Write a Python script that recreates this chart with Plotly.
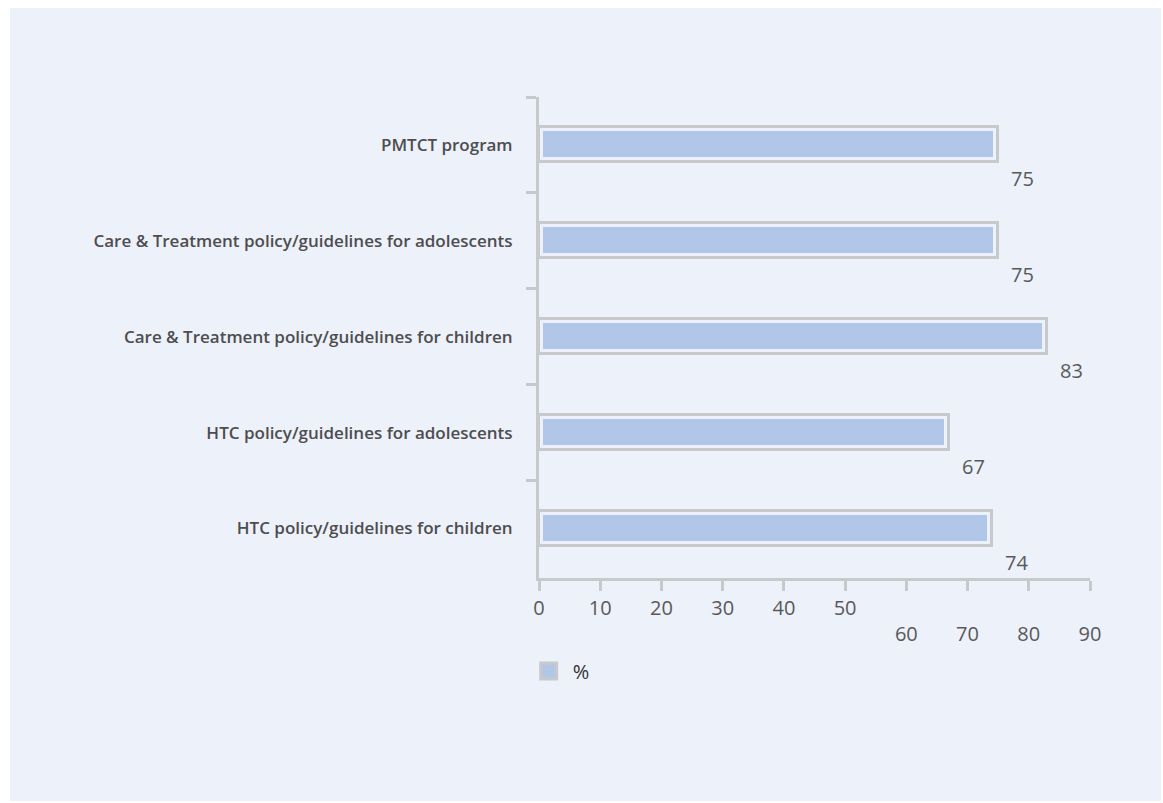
import plotly.graph_objects as go

categories = [
    "PMTCT program",
    "Care & Treatment policy/guidelines for adolescents",
    "Care & Treatment policy/guidelines for children",
    "HTC policy/guidelines for adolescents",
    "HTC policy/guidelines for children",
]
values = [75, 75, 83, 67, 74]
tick_vals = [0, 10, 20, 30, 40, 50, 60, 70, 80, 90]
tick_text = ["0", "10", "20", "30", "40", "50", "<br>60", "<br>70", "<br>80", "<br>90"]
series_name = "%"

BG = "#edf1f9"
BAR = "#b2c7e7"
GREY = "#c8c9cb"
TXT = "#58595b"
FONT = "Open Sans"

W, H = 1163, 803
ML, MR, MT, MB = 539, 73, 97, 225
pw, ph = W - ML - MR, H - MT - MB

fig = go.Figure()
# inner filled bar
fig.add_trace(go.Bar(
    y=categories, x=values, orientation="h", width=0.365,
    marker=dict(color=BAR, line=dict(color=BG, width=9)),
    showlegend=False, hoverinfo="skip",
))
# outer outline
fig.add_trace(go.Bar(
    y=categories, x=values, orientation="h", width=0.365,
    marker=dict(color="rgba(0,0,0,0)", line=dict(color=GREY, width=3)),
    showlegend=False, hoverinfo="skip",
))
# legend entry
fig.add_trace(go.Scatter(
    x=[None], y=[None], mode="markers", name=series_name,
    marker=dict(symbol="square", size=20, color=BAR, line=dict(color=GREY, width=3)),
))

for c, v in zip(categories, values):
    fig.add_annotation(
        x=v, y=c, xref="x", yref="y", text=str(v), showarrow=False,
        xanchor="left", yanchor="middle", xshift=11, yshift=-34,
        font=dict(family=FONT, size=20, color=TXT),
    )

# background panel
fig.add_shape(
    type="rect", xref="paper", yref="paper", layer="below",
    x0=(10 - ML) / pw, x1=(1161 - ML) / pw,
    y0=(H - MB - 801) / ph, y1=(H - MB - 8) / ph,
    fillcolor=BG, line=dict(width=0),
)

fig.update_layout(
    width=W, height=H,
    margin=dict(l=ML, r=MR, t=MT, b=MB, pad=0),
    paper_bgcolor="white", plot_bgcolor="rgba(0,0,0,0)",
    barmode="overlay", bargap=0,
    font=dict(family=FONT, color=TXT),
    showlegend=True,
    legend=dict(
        x=-0.026, y=(H - MB - 671) / ph, xanchor="left", yanchor="middle",
        bgcolor="rgba(0,0,0,0)", font=dict(family=FONT, size=20, color="#333333"),
        itemsizing="trace", itemwidth=38,
    ),
    xaxis=dict(
        range=[0, 90], tickvals=tick_vals, ticktext=tick_text,
        showgrid=False, zeroline=False, showline=True, linecolor=GREY, linewidth=3,
        ticks="outside", ticklen=10, tickwidth=3, tickcolor=GREY,
        tickfont=dict(family=FONT, size=20, color=TXT), fixedrange=True,
    ),
    yaxis=dict(
        autorange="reversed", range=[4.5, -0.5],
        showgrid=False, zeroline=False, showline=True, linecolor=GREY, linewidth=3,
        ticks="outside", ticklen=10, tickwidth=3, tickcolor=GREY, tickson="boundaries",
        tickfont=dict(family=FONT, size=17, color="#4d4d4f", weight=600),
        ticklabelstandoff=20, fixedrange=True,
    ),
)

fig.write_html("out.html", config={"displayModeBar": False})
